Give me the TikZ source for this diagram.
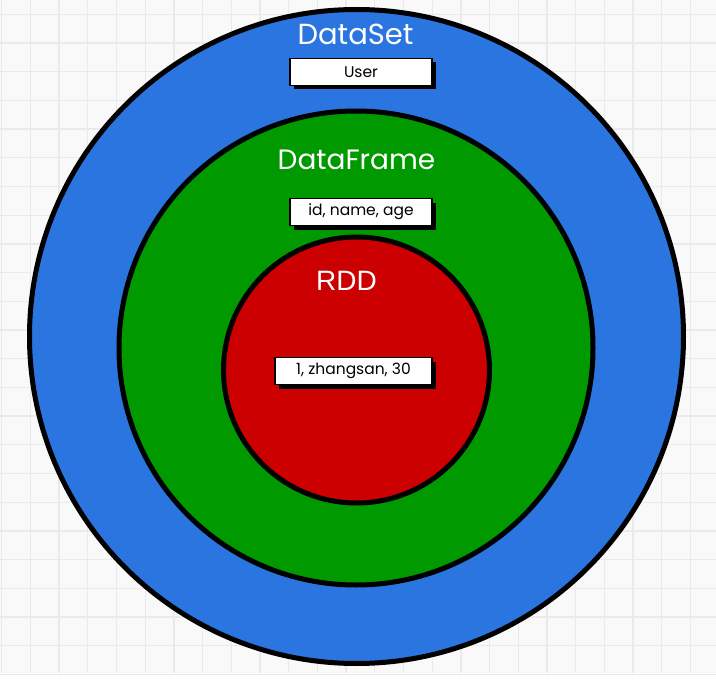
\documentclass[tikz,border=0pt]{standalone}
\usepackage{fontspec}
\setmainfont{Poppins}
\newfontfamily\rddfont{Liberation Sans}
\usetikzlibrary{shadows}
\definecolor{setblue}{RGB}{42,117,224}
\definecolor{framegreen}{RGB}{0,153,0}
\definecolor{rddred}{RGB}{204,0,0}
\definecolor{gridgray}{RGB}{234,234,234}
\definecolor{paper}{RGB}{249,249,249}

\begin{document}
\begin{tikzpicture}[x=1pt, y=-1pt,
  layer/.style={circle, draw=black, line width=5pt, inner sep=0pt},
  title/.style={anchor=base, text=white, font=\fontsize{29}{31}\selectfont},
  tag/.style={draw=black, line width=1.6pt, fill=white, minimum height=27pt, inner sep=0pt,
    font=\fontsize{15.5}{17}\selectfont,
    drop shadow={shadow xshift=4pt, shadow yshift=-4pt, fill=black, opacity=1}}]
  \useasboundingbox (0,0) rectangle (716,685);

  % Background grid
  \fill[paper] (0,0) rectangle (716,673);
  \foreach \gx in {0,...,24}
    \draw[gridgray, line width=1.3pt] ({1.7+28.7*\gx},0) -- ({1.7+28.7*\gx},673);
  \foreach \gy in {0,...,23}
    \draw[gridgray, line width=1.3pt] (0,{14.3+28.7*\gy}) -- (716,{14.3+28.7*\gy});

  % --- Nested layers ---
  \node[layer, fill=setblue, minimum size=654pt] (dataset) at (356.5,336.5) {};
  \node[layer, fill=framegreen, minimum size=474pt] (dataframe) at (356,348) {};
  \node[layer, fill=rddred, minimum size=266pt] (rdd) at (356.5,370) {};

  % Titles
  \node[title] (dataset title) at (355.5,45) {DataSet};
  \node[title, font=\fontsize{28}{30}\selectfont] (dataframe title) at (356.5,169) {DataFrame};
  \node[title, font=\fontsize{28}{30}\rddfont] (rdd title) at (346.5,290) {RDD};

  % Sample records
  \node[tag, minimum width=142pt] (user) at (361,72) {User};
  \node[tag, minimum width=142pt] (columns) at (361,212) {id, name, age};
  \node[tag, minimum width=157pt] (row) at (353.5,371) {1, zhangsan, 30};
\end{tikzpicture}
\end{document}
